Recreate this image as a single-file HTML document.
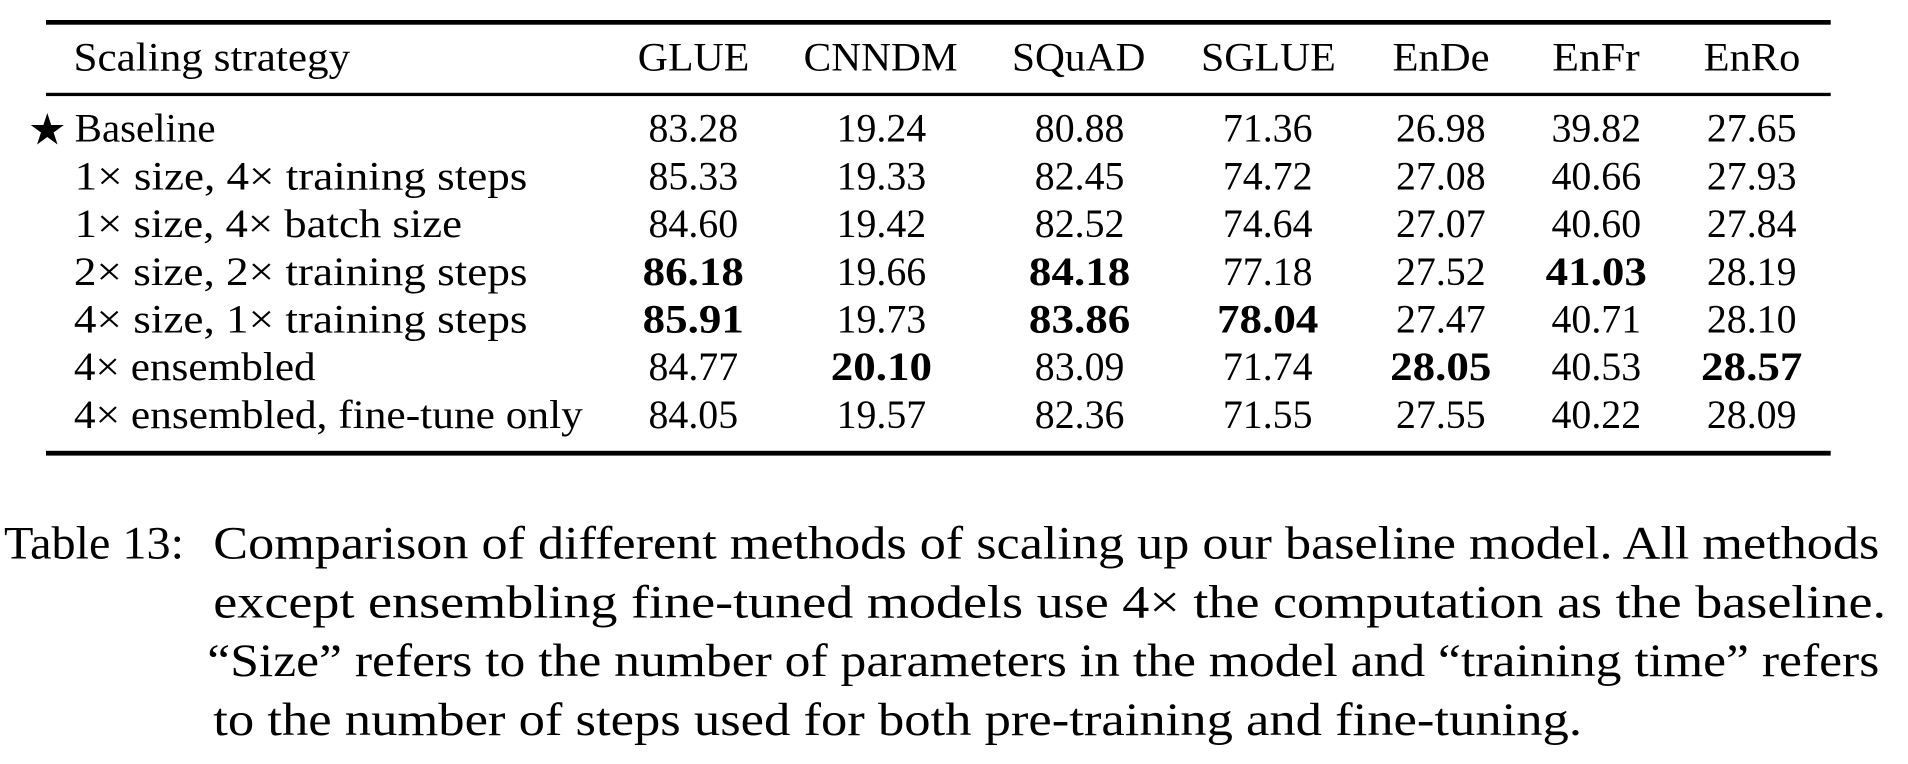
<!DOCTYPE html>
<html>
<head>
<meta charset="utf-8">
<style>
  html, body { margin: 0; padding: 0; background: #fff; }
  body { width: 1908px; height: 764px; overflow: hidden; }
  svg { display: block; }
  text { font-family: "Liberation Serif", "DejaVu Serif", serif; fill: #000; }
  .t { font-size: 40px; }
  .b { font-size: 40px; font-weight: bold; }
  .c { font-size: 47px; }
</style>
</head>
<body>
<svg width="1908" height="764" viewBox="0 0 1908 764" xmlns="http://www.w3.org/2000/svg">
  <rect x="0" y="0" width="1908" height="764" fill="#fff"/>

  <!-- rules -->
  <rect x="46" y="20" width="1784.7" height="4.7" fill="#000"/>
  <rect x="46" y="92.8" width="1784.7" height="3.3" fill="#000"/>
  <rect x="46" y="450.8" width="1784.7" height="4.8" fill="#000"/>

  <!-- header -->
  <text class="t" x="73.5" y="70.7" textLength="276.7" lengthAdjust="spacingAndGlyphs">Scaling strategy</text>
  <text class="t" x="693.5" y="70.7" text-anchor="middle" textLength="111.5" lengthAdjust="spacingAndGlyphs">GLUE</text>
  <text class="t" x="880.7" y="70.7" text-anchor="middle" textLength="154" lengthAdjust="spacingAndGlyphs">CNNDM</text>
  <text class="t" x="1078.7" y="70.7" text-anchor="middle" textLength="133.3" lengthAdjust="spacingAndGlyphs">SQuAD</text>
  <text class="t" x="1268.4" y="70.7" text-anchor="middle" textLength="134.8" lengthAdjust="spacingAndGlyphs">SGLUE</text>
  <text class="t" x="1441" y="70.7" text-anchor="middle" textLength="97" lengthAdjust="spacingAndGlyphs">EnDe</text>
  <text class="t" x="1596" y="70.7" text-anchor="middle" textLength="87.5" lengthAdjust="spacingAndGlyphs">EnFr</text>
  <text class="t" x="1752" y="70.7" text-anchor="middle" textLength="96.7" lengthAdjust="spacingAndGlyphs">EnRo</text>

  <!-- star -->
  <polygon fill="#000" points="47.3,113 51.21,125.02 63.85,125.02 53.62,132.45 57.53,144.48 47.3,137.05 37.07,144.48 40.98,132.45 30.75,125.02 43.39,125.02"/>

  <!-- row labels -->
  <text class="t" x="74.7" y="141.7" textLength="140.8" lengthAdjust="spacingAndGlyphs">Baseline</text>
  <text class="t" x="74.7" y="189.4" textLength="452.6" lengthAdjust="spacingAndGlyphs">1× size, 4× training steps</text>
  <text class="t" x="74.7" y="237.1" textLength="387.3" lengthAdjust="spacingAndGlyphs">1× size, 4× batch size</text>
  <text class="t" x="73.9" y="284.8" textLength="453.6" lengthAdjust="spacingAndGlyphs">2× size, 2× training steps</text>
  <text class="t" x="73.9" y="332.5" textLength="453.6" lengthAdjust="spacingAndGlyphs">4× size, 1× training steps</text>
  <text class="t" x="73.9" y="380.2" textLength="241.8" lengthAdjust="spacingAndGlyphs">4× ensembled</text>
  <text class="t" x="73.9" y="427.9" textLength="509" lengthAdjust="spacingAndGlyphs">4× ensembled, fine-tune only</text>

  <!-- Row 1 -->
  <g text-anchor="middle" lengthAdjust="spacingAndGlyphs">
    <text class="t" x="693.3" y="141.7" textLength="89.6" lengthAdjust="spacingAndGlyphs">83.28</text>
    <text class="t" x="881.4" y="141.7" textLength="89.6" lengthAdjust="spacingAndGlyphs">19.24</text>
    <text class="t" x="1079.6" y="141.7" textLength="89.6" lengthAdjust="spacingAndGlyphs">80.88</text>
    <text class="t" x="1267.7" y="141.7" textLength="89.6" lengthAdjust="spacingAndGlyphs">71.36</text>
    <text class="t" x="1440.8" y="141.7" textLength="89.6" lengthAdjust="spacingAndGlyphs">26.98</text>
    <text class="t" x="1596.3" y="141.7" textLength="89.6" lengthAdjust="spacingAndGlyphs">39.82</text>
    <text class="t" x="1751.7" y="141.7" textLength="89.6" lengthAdjust="spacingAndGlyphs">27.65</text>

    <!-- Row 2 -->
    <text class="t" x="693.3" y="189.4" textLength="89.6" lengthAdjust="spacingAndGlyphs">85.33</text>
    <text class="t" x="881.4" y="189.4" textLength="89.6" lengthAdjust="spacingAndGlyphs">19.33</text>
    <text class="t" x="1079.6" y="189.4" textLength="89.6" lengthAdjust="spacingAndGlyphs">82.45</text>
    <text class="t" x="1267.7" y="189.4" textLength="89.6" lengthAdjust="spacingAndGlyphs">74.72</text>
    <text class="t" x="1440.8" y="189.4" textLength="89.6" lengthAdjust="spacingAndGlyphs">27.08</text>
    <text class="t" x="1596.3" y="189.4" textLength="89.6" lengthAdjust="spacingAndGlyphs">40.66</text>
    <text class="t" x="1751.7" y="189.4" textLength="89.6" lengthAdjust="spacingAndGlyphs">27.93</text>

    <!-- Row 3 -->
    <text class="t" x="693.3" y="237.1" textLength="89.6" lengthAdjust="spacingAndGlyphs">84.60</text>
    <text class="t" x="881.4" y="237.1" textLength="89.6" lengthAdjust="spacingAndGlyphs">19.42</text>
    <text class="t" x="1079.6" y="237.1" textLength="89.6" lengthAdjust="spacingAndGlyphs">82.52</text>
    <text class="t" x="1267.7" y="237.1" textLength="89.6" lengthAdjust="spacingAndGlyphs">74.64</text>
    <text class="t" x="1440.8" y="237.1" textLength="89.6" lengthAdjust="spacingAndGlyphs">27.07</text>
    <text class="t" x="1596.3" y="237.1" textLength="89.6" lengthAdjust="spacingAndGlyphs">40.60</text>
    <text class="t" x="1751.7" y="237.1" textLength="89.6" lengthAdjust="spacingAndGlyphs">27.84</text>

    <!-- Row 4 -->
    <text class="b" x="693.3" y="284.8" textLength="101.3" lengthAdjust="spacingAndGlyphs">86.18</text>
    <text class="t" x="881.4" y="284.8" textLength="89.6" lengthAdjust="spacingAndGlyphs">19.66</text>
    <text class="b" x="1079.6" y="284.8" textLength="101.3" lengthAdjust="spacingAndGlyphs">84.18</text>
    <text class="t" x="1267.7" y="284.8" textLength="89.6" lengthAdjust="spacingAndGlyphs">77.18</text>
    <text class="t" x="1440.8" y="284.8" textLength="89.6" lengthAdjust="spacingAndGlyphs">27.52</text>
    <text class="b" x="1596.3" y="284.8" textLength="101.3" lengthAdjust="spacingAndGlyphs">41.03</text>
    <text class="t" x="1751.7" y="284.8" textLength="89.6" lengthAdjust="spacingAndGlyphs">28.19</text>

    <!-- Row 5 -->
    <text class="b" x="693.3" y="332.5" textLength="101.3" lengthAdjust="spacingAndGlyphs">85.91</text>
    <text class="t" x="881.4" y="332.5" textLength="89.6" lengthAdjust="spacingAndGlyphs">19.73</text>
    <text class="b" x="1079.6" y="332.5" textLength="101.3" lengthAdjust="spacingAndGlyphs">83.86</text>
    <text class="b" x="1267.7" y="332.5" textLength="101.3" lengthAdjust="spacingAndGlyphs">78.04</text>
    <text class="t" x="1440.8" y="332.5" textLength="89.6" lengthAdjust="spacingAndGlyphs">27.47</text>
    <text class="t" x="1596.3" y="332.5" textLength="89.6" lengthAdjust="spacingAndGlyphs">40.71</text>
    <text class="t" x="1751.7" y="332.5" textLength="89.6" lengthAdjust="spacingAndGlyphs">28.10</text>

    <!-- Row 6 -->
    <text class="t" x="693.3" y="380.2" textLength="89.6" lengthAdjust="spacingAndGlyphs">84.77</text>
    <text class="b" x="881.4" y="380.2" textLength="101.3" lengthAdjust="spacingAndGlyphs">20.10</text>
    <text class="t" x="1079.6" y="380.2" textLength="89.6" lengthAdjust="spacingAndGlyphs">83.09</text>
    <text class="t" x="1267.7" y="380.2" textLength="89.6" lengthAdjust="spacingAndGlyphs">71.74</text>
    <text class="b" x="1440.8" y="380.2" textLength="101.3" lengthAdjust="spacingAndGlyphs">28.05</text>
    <text class="t" x="1596.3" y="380.2" textLength="89.6" lengthAdjust="spacingAndGlyphs">40.53</text>
    <text class="b" x="1751.7" y="380.2" textLength="101.3" lengthAdjust="spacingAndGlyphs">28.57</text>

    <!-- Row 7 -->
    <text class="t" x="693.3" y="427.9" textLength="89.6" lengthAdjust="spacingAndGlyphs">84.05</text>
    <text class="t" x="881.4" y="427.9" textLength="89.6" lengthAdjust="spacingAndGlyphs">19.57</text>
    <text class="t" x="1079.6" y="427.9" textLength="89.6" lengthAdjust="spacingAndGlyphs">82.36</text>
    <text class="t" x="1267.7" y="427.9" textLength="89.6" lengthAdjust="spacingAndGlyphs">71.55</text>
    <text class="t" x="1440.8" y="427.9" textLength="89.6" lengthAdjust="spacingAndGlyphs">27.55</text>
    <text class="t" x="1596.3" y="427.9" textLength="89.6" lengthAdjust="spacingAndGlyphs">40.22</text>
    <text class="t" x="1751.7" y="427.9" textLength="89.6" lengthAdjust="spacingAndGlyphs">28.09</text>
  </g>

  <!-- caption -->
  <text class="c" x="4" y="558.3" textLength="180" lengthAdjust="spacingAndGlyphs">Table 13:</text>
  <text class="c" x="213.3" y="558.3" textLength="1666" lengthAdjust="spacingAndGlyphs">Comparison of different methods of scaling up our baseline model. All methods</text>
  <text class="c" x="213.3" y="617.3" textLength="1672.7" lengthAdjust="spacingAndGlyphs">except ensembling fine-tuned models use 4× the computation as the baseline.</text>
  <text class="c" x="207.3" y="676" textLength="1672" lengthAdjust="spacingAndGlyphs">“Size” refers to the number of parameters in the model and “training time” refers</text>
  <text class="c" x="213.3" y="735" textLength="1368.7" lengthAdjust="spacingAndGlyphs">to the number of steps used for both pre-training and fine-tuning.</text>
</svg>
</body>
</html>
